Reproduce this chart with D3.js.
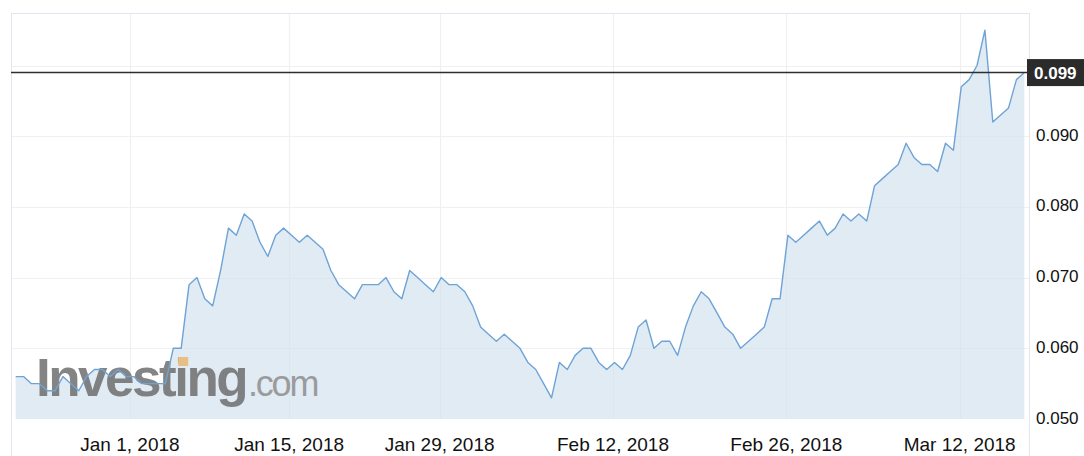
<!DOCTYPE html>
<html>
<head>
<meta charset="utf-8">
<script src="https://cdn.jsdelivr.net/npm/d3@7"></script>
<style>
  html, body { margin: 0; padding: 0; background: #fff; }
  svg { display: block; font-family: "Liberation Sans", Arial, Helvetica, sans-serif; }
</style>
</head>
<body>
<svg id="chart" width="1084" height="456"></svg>
<script>
// ---- data (price, one value per plotted point) ----
const prices = [
  0.056, 0.056, 0.055, 0.055, 0.054, 0.054, 0.056, 0.055, 0.054, 0.056,
  0.057, 0.057, 0.056, 0.057, 0.056, 0.056, 0.055, 0.055, 0.055, 0.055,
  0.060, 0.060, 0.069, 0.070, 0.067, 0.066, 0.071, 0.077, 0.076, 0.079,
  0.078, 0.075, 0.073, 0.076, 0.077, 0.076, 0.075, 0.076, 0.075, 0.074,
  0.071, 0.069, 0.068, 0.067, 0.069, 0.069, 0.069, 0.070, 0.068, 0.067,
  0.071, 0.070, 0.069, 0.068, 0.070, 0.069, 0.069, 0.068, 0.066, 0.063,
  0.062, 0.061, 0.062, 0.061, 0.060, 0.058, 0.057, 0.055, 0.053, 0.058,
  0.057, 0.059, 0.060, 0.060, 0.058, 0.057, 0.058, 0.057, 0.059, 0.063,
  0.064, 0.060, 0.061, 0.061, 0.059, 0.063, 0.066, 0.068, 0.067, 0.065,
  0.063, 0.062, 0.060, 0.061, 0.062, 0.063, 0.067, 0.067, 0.076, 0.075,
  0.076, 0.077, 0.078, 0.076, 0.077, 0.079, 0.078, 0.079, 0.078, 0.083,
  0.084, 0.085, 0.086, 0.089, 0.087, 0.086, 0.086, 0.085, 0.089, 0.088,
  0.097, 0.098, 0.100, 0.105, 0.092, 0.093, 0.094, 0.098, 0.099
];
// x-axis tick labels and where they fall (in point-index units)
const xTickLabels = ["Jan 1, 2018", "Jan 15, 2018", "Jan 29, 2018", "Feb 12, 2018", "Feb 26, 2018", "Mar 12, 2018"];
const xTickIndex  = [14.5, 34.7, 53.8, 75.8, 97.8, 119.8];
// y-axis ticks
const yTicks = [0.050, 0.060, 0.070, 0.080, 0.090];
const yGrid  = [0.060, 0.070, 0.080, 0.090, 0.100];
const lastPrice = 0.099;

// ---- layout ----
const svg = d3.select("#chart");
const frame = { left: 11, right: 1029, top: 13, bottom: 419 };

const x = d3.scaleLinear().domain([0, prices.length - 1]).range([15.7, 1024.3]);
const y = d3.scaleLinear().domain([0.05, 0.10]).range([419, 65.5]);

// gridlines
const grid = svg.append("g");
grid.selectAll("line.h").data(yGrid).join("line")
  .attr("x1", frame.left).attr("x2", frame.right)
  .attr("y1", d => Math.round(y(d)) + 0.5).attr("y2", d => Math.round(y(d)) + 0.5)
  .attr("stroke", "#f0f0f2").attr("stroke-width", 1.2);
grid.selectAll("line.v").data(xTickIndex).join("line")
  .attr("x1", d => Math.round(x(d)) + 0.5).attr("x2", d => Math.round(x(d)) + 0.5)
  .attr("y1", frame.top).attr("y2", frame.bottom)
  .attr("stroke", "#f0f0f2").attr("stroke-width", 1.2);

// area
const area = d3.area()
  .x((d, i) => x(i))
  .y0(y(0.05))
  .y1(d => y(d));
svg.append("path").datum(prices)
  .attr("d", area)
  .attr("fill", "#d3e2ee")
  .attr("fill-opacity", 0.68);

// watermark
const wm = svg.append("g").attr("opacity", 0.8);
const inv = wm.append("text")
  .attr("x", 36).attr("y", 396)
  .attr("font-size", 53).attr("font-weight", "bold")
  .attr("letter-spacing", -2.5)
  .attr("fill", "#666")
  .text("Investing");
wm.append("text")
  .attr("x", 248).attr("y", 396)
  .attr("font-size", 36)
  .attr("letter-spacing", -2.2)
  .attr("fill", "#888")
  .text(".com");
// orange square over the "i" dot
try {
  const node = inv.node();
  const p = node.getStartPositionOfChar(6);
  wm.append("rect")
    .attr("x", p.x + 4).attr("y", 357)
    .attr("width", 10).attr("height", 9)
    .attr("fill", "#eab46a");
} catch (err) {}

// line
const line = d3.line().x((d, i) => x(i)).y(d => y(d));
svg.append("path").datum(prices)
  .attr("d", line)
  .attr("fill", "none")
  .attr("stroke", "#6ea3d6")
  .attr("stroke-width", 1.4)
  .attr("stroke-linejoin", "round");

// frame
svg.append("line").attr("x1", frame.left).attr("x2", frame.right)
  .attr("y1", frame.top + 0.5).attr("y2", frame.top + 0.5)
  .attr("stroke", "#e4e6ef");
svg.append("line").attr("x1", frame.left + 0.5).attr("x2", frame.left + 0.5)
  .attr("y1", frame.top).attr("y2", 456)
  .attr("stroke", "#e4e6ef");
svg.append("line").attr("x1", frame.right + 0.5).attr("x2", frame.right + 0.5)
  .attr("y1", frame.top).attr("y2", 456)
  .attr("stroke", "#e4e6ef");

// y axis labels
svg.append("g").selectAll("text").data(yTicks).join("text")
  .attr("x", 1036).attr("y", d => y(d) + 4.5)
  .attr("font-size", 17).attr("fill", "#111")
  .text(d => d3.format(".3f")(d));

// x axis labels
svg.append("g").selectAll("text").data(xTickIndex).join("text")
  .attr("x", d => x(d)).attr("y", 451)
  .attr("text-anchor", "middle")
  .attr("font-size", 19).attr("fill", "#111")
  .text((d, i) => xTickLabels[i]);

// last price line + box
svg.append("line")
  .attr("x1", frame.left).attr("x2", frame.right)
  .attr("y1", y(lastPrice)).attr("y2", y(lastPrice))
  .attr("stroke", "#2e2e2e").attr("stroke-width", 1.6);
svg.append("rect")
  .attr("x", 1027).attr("y", y(lastPrice) - 13.5)
  .attr("width", 57).attr("height", 27)
  .attr("fill", "#2b2b2b");
svg.append("text")
  .attr("x", 1034).attr("y", y(lastPrice) + 6)
  .attr("font-size", 17).attr("font-weight", "bold").attr("fill", "#fff")
  .text(d3.format(".3f")(lastPrice));
</script>
</body>
</html>
